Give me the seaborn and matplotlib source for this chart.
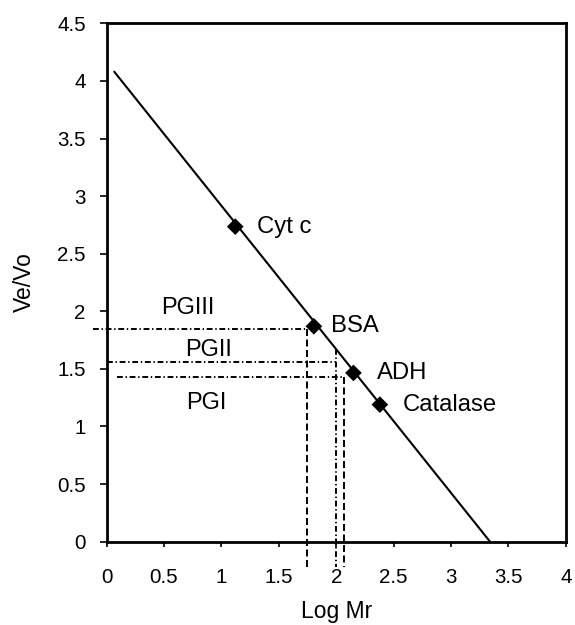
import numpy as np
import pandas as pd
import matplotlib
matplotlib.use("Agg")
import matplotlib.pyplot as plt
from matplotlib.ticker import FuncFormatter
import seaborn as sns

# standard proteins: log Mr vs Ve/Vo
proteins = ["Cyt c", "BSA", "ADH", "Catalase"]
log_mr = [1.12, 1.805, 2.15, 2.38]
ve_vo = [2.735, 1.87, 1.465, 1.19]

# calibration line ends
fit_log_mr = [0.066, 3.34]
fit_ve_vo = [4.08, 0.0]

# PG fractions
pg_names = ["PGIII", "PGII", "PGI"]
pg_ve_vo = [1.847, 1.557, 1.427]
pg_log_mr = [1.745, 1.995, 2.066]

x_ticks = [0, 0.5, 1, 1.5, 2, 2.5, 3, 3.5, 4]
y_ticks = [0, 0.5, 1, 1.5, 2, 2.5, 3, 3.5, 4, 4.5]

sns.set_theme(style="ticks")
plt.rcParams["font.family"] = ["Liberation Sans", "DejaVu Sans"]
plt.rcParams["text.color"] = "black"
plt.rcParams["axes.labelcolor"] = "black"

std = pd.DataFrame({"protein": proteins, "log_mr": log_mr, "ve_vo": ve_vo})
fit = pd.DataFrame({"log_mr": fit_log_mr, "ve_vo": fit_ve_vo})

fig = plt.figure(figsize=(5.75, 6.25), dpi=100)
ax = fig.add_axes([0.1855, 0.1333, 0.7985, 0.8294])

sns.lineplot(data=fit, x="log_mr", y="ve_vo", color="black", lw=1.5, ax=ax)
sns.scatterplot(data=std, x="log_mr", y="ve_vo", marker="D", s=72,
                color="black", edgecolor="none", zorder=5, ax=ax)

label_dx = [16, 12.7, 17, 16.3]
for name, x, y, dx in zip(proteins, log_mr, ve_vo, label_dx):
    ax.annotate(name, (x, y), xytext=(dx, 0), textcoords="offset points",
                ha="left", va="center", fontsize=17.2)

# guide lines for the PG fractions
dashed = (0, (3.6, 1.8))
dashdot = (0, (3.0, 1.4, 0.7, 1.4))
h_start = [-0.12, 0.0, 0.09]
v_styles = [dashed, dashdot, dashed]
v_top = [pg_ve_vo[0], np.interp(pg_log_mr[1], fit_log_mr, fit_ve_vo), pg_ve_vo[2]]
for i in range(3):
    ax.plot([h_start[i], pg_log_mr[i] + (0.005 if i == 1 else 0)], [pg_ve_vo[i]] * 2,
            color="black", lw=1.4, linestyle=dashdot, clip_on=False)
    ax.plot([pg_log_mr[i]] * 2, [v_top[i], -0.22], color="black", lw=1.4,
            linestyle=v_styles[i], clip_on=False)

pg_text_x = [0.71, 0.89, 0.865]
pg_text_dy = [0.185, 0.11, -0.222]
for name, tx, y, dy in zip(pg_names, pg_text_x, pg_ve_vo, pg_text_dy):
    ax.text(tx, y + dy, name, ha="center", va="center", fontsize=17)

ax.set_xlim(0, 4)
ax.set_ylim(0, 4.5)
ax.set_xticks(x_ticks)
ax.set_yticks(y_ticks)
fmt = FuncFormatter(lambda v, p: f"{v:g}")
ax.xaxis.set_major_formatter(fmt)
ax.yaxis.set_major_formatter(fmt)
ax.tick_params(axis="x", direction="out", length=3.6, width=1.2, pad=15,
               labelsize=14.8, color="black", labelcolor="black")
ax.tick_params(axis="y", direction="out", length=5, width=1.2, pad=10,
               labelsize=14.8, color="black", labelcolor="black")
for sp in ax.spines.values():
    sp.set_visible(True)
    sp.set_linewidth(2)
    sp.set_color("black")

ax.set_xlabel("Log Mr", fontsize=16.5, labelpad=10)
ax.set_ylabel("Ve/Vo", fontsize=16.5, labelpad=15)

fig.savefig("out.png", dpi=100)
